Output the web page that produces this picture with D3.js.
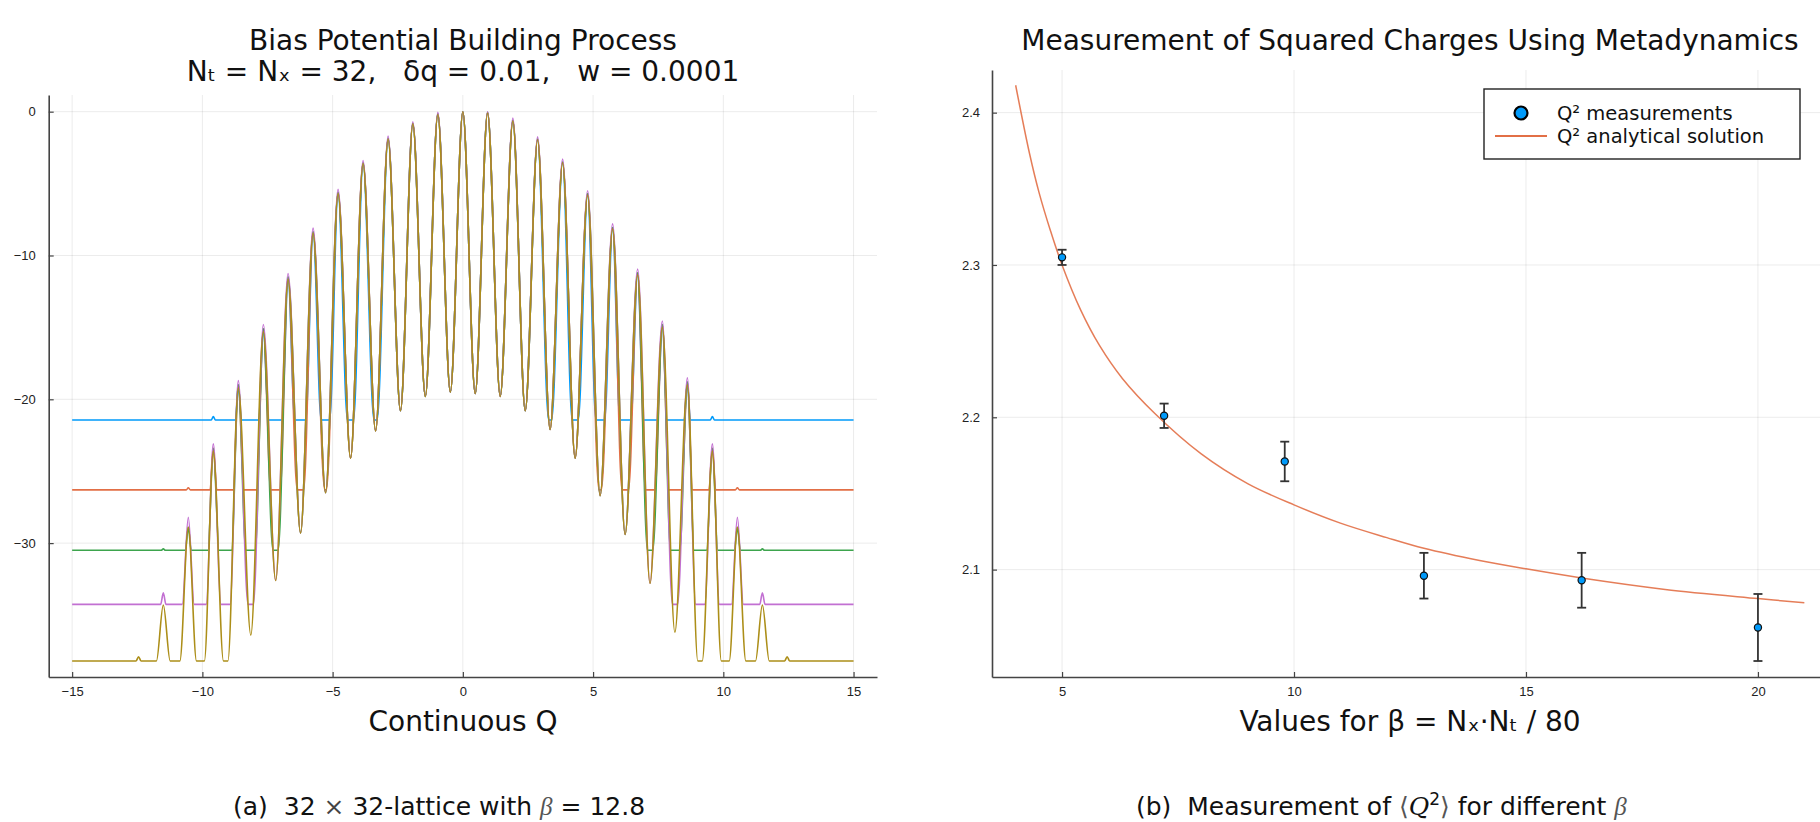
<!DOCTYPE html>
<html>
<head>
<meta charset="utf-8">
<script src="https://cdn.jsdelivr.net/npm/d3@7"></script>
<style>
  body { margin: 0; background: #fff; }
  svg { display: block; font-family: 'DejaVu Sans', sans-serif; }
  .axis text { font-size: 13px; fill: #222; }
  .axis .domain { stroke: #444; stroke-width: 1.6; }
  .axis .tick line { stroke: #444; stroke-width: 1.2; }
  .grid line { stroke: #000; stroke-opacity: 0.08; stroke-width: 1; }
  .pre { white-space: pre; }
</style>
</head>
<body>
<div id="chart"></div>
<script>
// ---------- left panel: bias potential snapshots ----------
// positions of the bumps (Continuous Q)
const peakQ = [-12.45, -11.5, -10.54, -9.58, -8.62, -7.66, -6.71, -5.75, -4.79, -3.83, -2.87, -1.92, -0.96,
  0, 0.95, 1.92, 2.87, 3.83, 4.79, 5.75, 6.71, 7.66, 8.62, 9.58, 10.54, 11.5, 12.45]
// depth of the dips between bumps (first/last entry = outside the outer bumps)
const valleyDepth = [-41, -41, -41, -41.5, -39.5, -36.4, -32.6, -29.3, -26.5, -24.1, -22.2, -20.8, -19.8, -19.5,
  -19.6, -19.8, -20.8, -22.1, -24.1, -26.7, -29.4, -32.8, -36.2, -39.5, -41.5, -41, -41, -41]
// flat level of each snapshot
const floors = [-21.44, -26.3, -30.5, -34.26, -38.2]
// bump tops of each snapshot
const topsBlue = [-21.44, -21.44, -21.44, -21.2, -19.0, -15.1, -11.5, -8.35, -5.6, -3.55, -1.85, -0.8, -0.15,
  0, -0.05, -0.6, -1.9, -3.5, -5.7, -8.05, -11.2, -14.8, -18.8, -21.2, -21.44, -21.44, -21.44]
const topsOrange = [-26.3, -26.3, -26.15, -23.4, -19.0, -15.1, -11.5, -8.35, -5.6, -3.55, -1.85, -0.8, -0.15,
  0, -0.05, -0.6, -1.9, -3.5, -5.7, -8.05, -11.2, -14.8, -18.8, -23.4, -26.15, -26.3, -26.3]
const topsGreen = [-30.5, -30.4, -28.9, -23.4, -19.0, -15.1, -11.5, -8.35, -5.6, -3.55, -1.85, -0.8, -0.15,
  0, -0.05, -0.6, -1.9, -3.5, -5.7, -8.05, -11.2, -14.8, -18.8, -23.4, -28.9, -30.4, -30.5]
const topsPurple = [-34.26, -33.45, -28.2, -23.1, -18.7, -14.8, -11.25, -8.1, -5.4, -3.4, -1.7, -0.7, -0.05,
  0, 0, -0.45, -1.75, -3.3, -5.5, -7.8, -10.95, -14.55, -18.5, -23.1, -28.2, -33.45, -34.26]
const topsGold = [-37.9, -34.3, -28.9, -23.6, -19.2, -15.3, -11.65, -8.45, -5.7, -3.6, -1.9, -0.85, -0.2,
  0, -0.1, -0.65, -1.95, -3.55, -5.8, -8.15, -11.35, -15.0, -19.0, -23.6, -28.9, -34.3, -37.9]
const biasTops = [topsBlue, topsOrange, topsGreen, topsPurple, topsGold]
const biasColors = ['#009AFA', '#E26F46', '#3DA44D', '#C270D2', '#AC8E18']
const qTicks = [-15, -10, -5, 0, 5, 10, 15]
const biasTicks = [0, -10, -20, -30]

// ---------- right panel: <Q^2> vs beta ----------
const betaValues = [5, 7.2, 9.8, 12.8, 16.2, 20]
const q2Means = [2.305, 2.201, 2.171, 2.096, 2.093, 2.062]
const q2Errors = [0.005, 0.008, 0.013, 0.015, 0.018, 0.022]
const curveBeta = [4.0, 4.3, 4.5, 4.75, 5.0, 5.4, 5.8, 6.3, 7.0, 8.0, 9.0, 10.0, 11.0, 12.0, 12.8, 14.0, 15.0, 16.2, 18.0, 20.0, 21.0]
const curveQ2 = [2.418, 2.373, 2.348, 2.3225, 2.300, 2.2705, 2.2475, 2.2255, 2.2025, 2.176, 2.1565, 2.1425,
  2.1305, 2.121, 2.114, 2.106, 2.1005, 2.0945, 2.087, 2.081, 2.0782]
const betaTicks = [5, 10, 15, 20]
const q2Ticks = [2.1, 2.2, 2.3, 2.4]

const width = 1820
const height = 822
const svg = d3.select('#chart').append('svg')
  .attr('width', width)
  .attr('height', height)

/* ===== left panel ===== */
const L = { left: 48.7, right: 877, top: 95, bottom: 677 }
const xQ = d3.scaleLinear().domain([-15.9, 15.9]).range([L.left, L.right])
const yBias = d3.scaleLinear().domain([-39.31, 1.16]).range([L.bottom, L.top])

const left = svg.append('g')
left.append('g').attr('class', 'grid')
  .selectAll('line').data(qTicks).enter().append('line')
  .attr('x1', d => xQ(d)).attr('x2', d => xQ(d))
  .attr('y1', L.top).attr('y2', L.bottom)
left.append('g').attr('class', 'grid')
  .selectAll('line').data(biasTicks).enter().append('line')
  .attr('x1', L.left).attr('x2', L.right)
  .attr('y1', d => yBias(d)).attr('y2', d => yBias(d))

// half distance between two bumps
const halfGap = 0.479
// where a bump meets the flat floor (assumes cosine-like flanks)
function crossing(top, valley, floor) {
  const c = (2 * floor - top - valley) / (top - valley)
  const t = halfGap / Math.PI * Math.acos(Math.max(-1, Math.min(1, c)))
  return Math.min(halfGap - 0.02, Math.max(0.08, t))
}
function biasPoints(tops, floor) {
  const pts = [[-15, floor]]
  for (let g = 0; g <= peakQ.length; g++) {
    const v = valleyDepth[g]
    const hasL = g > 0
    const hasR = g < peakQ.length
    if (hasL && hasR && v > floor) {
      pts.push([(peakQ[g - 1] + peakQ[g]) / 2, v])
    } else {
      if (hasL && tops[g - 1] > floor + 0.01) pts.push([peakQ[g - 1] + crossing(tops[g - 1], v, floor), floor])
      if (hasR && tops[g] > floor + 0.01) pts.push([peakQ[g] - crossing(tops[g], v, floor), floor])
    }
    if (hasR) pts.push([peakQ[g], tops[g]])
  }
  pts.push([15, floor])
  return pts
}

const biasLine = d3.line()
  .x(d => xQ(d[0]))
  .y(d => yBias(d[1]))
  .curve(d3.curveMonotoneX)

left.append('g')
  .selectAll('path')
  .data(biasTops.map((tops, i) => biasPoints(tops, floors[i])))
  .enter().append('path')
  .attr('d', biasLine)
  .attr('fill', 'none')
  .attr('stroke', (d, i) => biasColors[i])
  .attr('stroke-width', 1.6)
  .attr('stroke-linejoin', 'round')

const xAxisL = d3.axisBottom(xQ).tickValues(qTicks).tickSizeInner(-5).tickSizeOuter(0).tickPadding(10)
left.append('g').attr('class', 'axis')
  .attr('transform', 'translate(0,' + L.bottom + ')')
  .call(xAxisL)
const yAxisL = d3.axisLeft(yBias).tickValues(biasTicks).tickSizeInner(-5).tickSizeOuter(0).tickPadding(13)
left.append('g').attr('class', 'axis')
  .attr('transform', 'translate(' + L.left + ',0)')
  .call(yAxisL)

left.append('text').attr('x', 463).attr('y', 50)
  .attr('text-anchor', 'middle').attr('font-size', 28).attr('fill', '#111')
  .text('Bias Potential Building Process')
left.append('text').attr('class', 'pre').attr('x', 463).attr('y', 81)
  .attr('text-anchor', 'middle').attr('font-size', 28).attr('fill', '#111')
  .text('Nₜ = Nₓ = 32,   δq = 0.01,   w = 0.0001')
left.append('text').attr('x', 463).attr('y', 731)
  .attr('text-anchor', 'middle').attr('font-size', 28).attr('fill', '#111')
  .text('Continuous Q')

/* ===== right panel ===== */
const R = { left: 992, right: 1828, top: 70, bottom: 677 }
const xBeta = d3.scaleLinear().domain([3.49, 21.51]).range([R.left, R.right])
const yQ2 = d3.scaleLinear().domain([2.0295, 2.428]).range([R.bottom, R.top])

const right = svg.append('g')
right.append('g').attr('class', 'grid')
  .selectAll('line').data(betaTicks).enter().append('line')
  .attr('x1', d => xBeta(d)).attr('x2', d => xBeta(d))
  .attr('y1', R.top).attr('y2', R.bottom)
right.append('g').attr('class', 'grid')
  .selectAll('line').data(q2Ticks).enter().append('line')
  .attr('x1', R.left).attr('x2', R.right)
  .attr('y1', d => yQ2(d)).attr('y2', d => yQ2(d))

const analytic = d3.line()
  .x(d => xBeta(d[0]))
  .y(d => yQ2(d[1]))
  .curve(d3.curveCatmullRom)
right.append('path')
  .datum(curveBeta.map((b, i) => [b, curveQ2[i]]))
  .attr('d', analytic)
  .attr('fill', 'none')
  .attr('stroke', '#E26F46')
  .attr('stroke-opacity', 0.9)
  .attr('stroke-width', 1.5)

const meas = betaValues.map((b, i) => ({ beta: b, q2: q2Means[i], err: q2Errors[i] }))
const bars = right.append('g').selectAll('g').data(meas).enter().append('g')
  .attr('stroke', '#333').attr('stroke-width', 1.8)
bars.append('line')
  .attr('x1', d => xBeta(d.beta)).attr('x2', d => xBeta(d.beta))
  .attr('y1', d => yQ2(d.q2 - d.err)).attr('y2', d => yQ2(d.q2 + d.err))
bars.append('line')
  .attr('x1', d => xBeta(d.beta) - 4.5).attr('x2', d => xBeta(d.beta) + 4.5)
  .attr('y1', d => yQ2(d.q2 + d.err)).attr('y2', d => yQ2(d.q2 + d.err))
bars.append('line')
  .attr('x1', d => xBeta(d.beta) - 4.5).attr('x2', d => xBeta(d.beta) + 4.5)
  .attr('y1', d => yQ2(d.q2 - d.err)).attr('y2', d => yQ2(d.q2 - d.err))
right.append('g').selectAll('circle').data(meas).enter().append('circle')
  .attr('cx', d => xBeta(d.beta))
  .attr('cy', d => yQ2(d.q2))
  .attr('r', 3.6)
  .attr('fill', '#009AFA')
  .attr('stroke', '#111')
  .attr('stroke-width', 1.2)

const xAxisR = d3.axisBottom(xBeta).tickValues(betaTicks).tickSizeInner(-5).tickSizeOuter(0).tickPadding(10)
right.append('g').attr('class', 'axis')
  .attr('transform', 'translate(0,' + R.bottom + ')')
  .call(xAxisR)
const yAxisR = d3.axisLeft(yQ2).tickValues(q2Ticks).tickFormat(d3.format('.1f'))
  .tickSizeInner(-5).tickSizeOuter(0).tickPadding(12)
right.append('g').attr('class', 'axis')
  .attr('transform', 'translate(' + R.left + ',0)')
  .call(yAxisR)

// legend
const legend = right.append('g').attr('transform', 'translate(1484,89)')
legend.append('rect').attr('width', 316).attr('height', 70)
  .attr('fill', '#fff').attr('stroke', '#222').attr('stroke-width', 1.4)
legend.append('circle').attr('cx', 37).attr('cy', 24).attr('r', 6.5)
  .attr('fill', '#009AFA').attr('stroke', '#000').attr('stroke-width', 2.2)
legend.append('line').attr('x1', 11).attr('x2', 63).attr('y1', 47).attr('y2', 47)
  .attr('stroke', '#E26F46').attr('stroke-width', 2)
legend.append('text').attr('x', 73).attr('y', 31).attr('font-size', 19.5).attr('fill', '#111')
  .text('Q² measurements')
legend.append('text').attr('x', 73).attr('y', 54).attr('font-size', 19.5).attr('fill', '#111')
  .text('Q² analytical solution')

right.append('text').attr('x', 1410).attr('y', 50)
  .attr('text-anchor', 'middle').attr('font-size', 28).attr('fill', '#111')
  .text('Measurement of Squared Charges Using Metadynamics')
right.append('text').attr('x', 1410).attr('y', 731)
  .attr('text-anchor', 'middle').attr('font-size', 28).attr('fill', '#111')
  .text('Values for β = Nₓ·Nₜ / 80')

/* ===== captions ===== */
const capA = svg.append('text').attr('class', 'pre').attr('x', 233).attr('y', 815)
  .attr('font-size', 25).attr('fill', '#111')
capA.append('tspan').text('(a)  32 ')
capA.append('tspan').attr('font-family', 'DejaVu Serif').attr('fill', '#444').text('×')
capA.append('tspan').text(' 32-lattice with ')
capA.append('tspan').attr('font-family', 'Liberation Serif').attr('font-style', 'italic').attr('fill', '#555').text('β')
capA.append('tspan').attr('font-family', 'DejaVu Serif').text(' = ')
capA.append('tspan').text('12.8')

const capB = svg.append('text').attr('class', 'pre').attr('x', 1136).attr('y', 815)
  .attr('font-size', 25).attr('fill', '#111')
capB.append('tspan').text('(b)  Measurement of ')
capB.append('tspan').attr('font-family', 'DejaVu Serif').attr('fill', '#555').text('⟨')
capB.append('tspan').attr('font-family', 'DejaVu Serif').attr('font-style', 'italic').text('Q')
capB.append('tspan').attr('font-size', 17).attr('dy', -10).text('2')
capB.append('tspan').attr('font-family', 'DejaVu Serif').attr('fill', '#555').attr('dy', 10).text('⟩')
capB.append('tspan').text(' for different ')
capB.append('tspan').attr('font-family', 'Liberation Serif').attr('font-style', 'italic').attr('fill', '#555').text('β')
</script>
</body>
</html>
